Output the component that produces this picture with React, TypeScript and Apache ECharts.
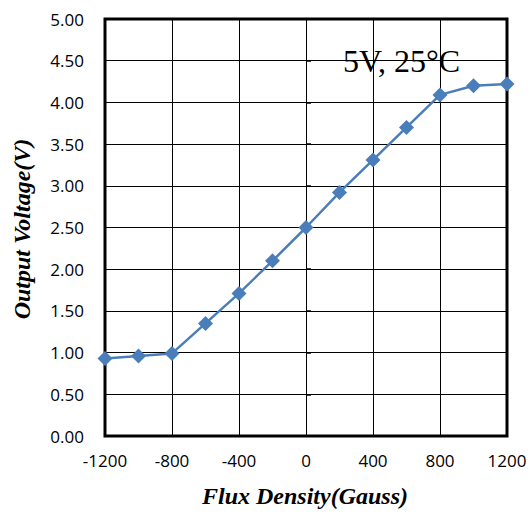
import React, { useEffect, useRef } from "react";
import * as echarts from "echarts";

const fluxDensity = [-1200, -1000, -800, -600, -400, -200, 0, 200, 400, 600, 800, 1000, 1200];
const outputVoltage = [0.93, 0.96, 0.99, 1.35, 1.71, 2.1, 2.5, 2.92, 3.31, 3.7, 4.09, 4.2, 4.22];
const annotation = "5V, 25°C";
const xName = "Flux Density(Gauss)";
const yName = "Output Voltage(V)";

export default function App() {
  const ref = useRef<HTMLDivElement>(null);
  useEffect(() => {
    const chart = echarts.init(ref.current!, null, { renderer: "svg" });
    chart.setOption({
      animation: false,
      backgroundColor: "#fff",
      grid: {
        left: 105,
        top: 19,
        right: 24,
        bottom: 78,
        show: true,
        borderColor: "#000",
        borderWidth: 3,
        containLabel: false,
      },
      xAxis: {
        type: "value",
        min: -1200,
        max: 1200,
        interval: 400,
        axisLine: { show: false },
        axisTick: { show: false },
        axisLabel: {
          fontFamily: "Open Sans",
          fontSize: 17,
          color: "#000",
          margin: 16,
          formatter: (v: number) => String(v),
        },
        splitLine: { show: true, lineStyle: { color: "#000", width: 1 } },
      },
      yAxis: {
        type: "value",
        min: 0,
        max: 5,
        interval: 0.5,
        axisLine: { show: false },
        axisTick: { show: true, inside: true, length: 5, lineStyle: { color: "#000", width: 1.5 } },
        axisLabel: {
          fontFamily: "Open Sans",
          fontSize: 17,
          color: "#000",
          margin: 21,
          formatter: (v: number) => v.toFixed(2),
        },
        splitLine: { show: true, lineStyle: { color: "#000", width: 1 } },
      },
      series: [
        {
          type: "line",
          data: fluxDensity.map((x, i) => [x, outputVoltage[i]]),
          symbol: "diamond",
          symbolSize: 15,
          lineStyle: { color: "#4A7EBB", width: 2.5 },
          itemStyle: { color: "#4A7EBB" },
          clip: false,
        },
      ],
      graphic: [
        {
          type: "text",
          left: 343,
          top: 45,
          style: {
            text: annotation,
            fontFamily: "Liberation Serif",
            fontSize: 32,
            fill: "#000",
            backgroundColor: "#fff",
          },
        },
        {
          type: "text",
          x: 305,
          y: 496,
          style: {
            text: xName,
            fontFamily: "Liberation Serif",
            fontStyle: "italic",
            fontWeight: "bold",
            fontSize: 24,
            fill: "#000",
            align: "center",
            verticalAlign: "middle",
          },
        },
        {
          type: "text",
          x: 22,
          y: 229,
          rotation: Math.PI / 2,
          style: {
            text: yName,
            fontFamily: "Liberation Serif",
            fontStyle: "italic",
            fontWeight: "bold",
            fontSize: 24,
            fill: "#000",
            align: "center",
            verticalAlign: "middle",
          },
        },
      ],
    });
    return () => chart.dispose();
  }, []);
  return (
    <div
      ref={ref}
      style={{ position: "absolute", left: 0, top: 0, width: 531, height: 514 }}
    />
  );
}
